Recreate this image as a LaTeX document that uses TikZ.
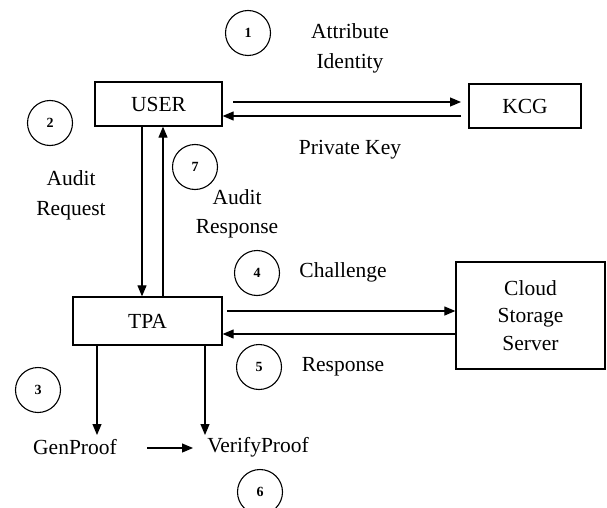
\documentclass[tikz,border=0pt]{standalone}
\usepackage{fontspec}
\setmainfont{Liberation Serif}
\usetikzlibrary{arrows.meta}
\begin{document}
\begin{tikzpicture}[x=1pt,y=-1pt,
  every node/.style={font=\fontsize{21.5}{25}\selectfont, inner sep=0pt},
  entity/.style={draw, line width=1.3pt, minimum width=#1, align=center},
  stepnum/.style={draw, line width=1.1pt, circle, minimum size=45pt,
    font=\fontsize{14}{16}\selectfont\bfseries},
  flow/.style={line width=1.2pt, -{Triangle[length=11pt,width=9pt]}},
  lbl/.style={align=center}]
\useasboundingbox (0,0) rectangle (607,508);

% Entities
\node[entity=127pt, minimum height=44pt] (user) at (158.5,104) {USER};
\node[entity=112pt, minimum height=44pt] (kcg) at (525,106) {KCG};
\node[entity=149pt, minimum height=48pt] (tpa) at (147.5,321) {TPA};
\node[entity=149pt, minimum height=107pt, font=\fontsize{21.5}{27.5}\selectfont] (css) at (530.5,315.5) {Cloud\\Storage\\Server};
\node (gen) at (75,447) {GenProof};
\node (ver) at (258,447) {VerifyProof};

% Step numbers
\node[stepnum] (n1) at (248,33) {1};
\node[stepnum] (n2) at (50,123) {2};
\node[stepnum] (n3) at (38,390) {3};
\node[stepnum] (n4) at (257,273) {4};
\node[stepnum] (n5) at (259,367) {5};
\node[stepnum] (n6) at (260,492) {6};
\node[stepnum] (n7) at (195,167) {7};

% Labels
\node[lbl, font=\fontsize{21.5}{30}\selectfont] (attr) at (350,48) {Attribute\\Identity};
\node (pk) at (350,150) {Private Key};
\node[lbl, font=\fontsize{21.5}{30}\selectfont] (areq) at (71,195) {Audit\\Request};
\node[lbl, font=\fontsize{21.5}{29}\selectfont] (aresp) at (237,214) {Audit\\Response};
\node (chal) at (343,272) {Challenge};
\node (resp) at (343,367) {Response};

% Free ends of connectors
\coordinate (uk1) at (233,102);
\coordinate (uk2) at (461,102);
\coordinate (ku1) at (461,116);
\coordinate (tc) at (227,311);
\coordinate (g1) at (147,448);
\coordinate (v1) at (193,448);

% Connectors
\draw[flow] (uk1) -- (uk2);
\draw[flow] (ku1) -- (ku1 -| user.east);
\draw[flow] (user.south -| 142,0) -- (tpa.north -| 142,0);
\draw[flow] (tpa.north -| 163,0) -- (user.south -| 163,0);
\draw[flow] (tc) -- (tc -| css.west);
\draw[flow] (css.west |- 0,334) -- (tpa.east |- 0,334);
\draw[flow] (tpa.south -| 97,0) -- (97,435);
\draw[flow] (tpa.south -| 205,0) -- (205,435);
\draw[flow] (g1) -- (v1);
\end{tikzpicture}
\end{document}
